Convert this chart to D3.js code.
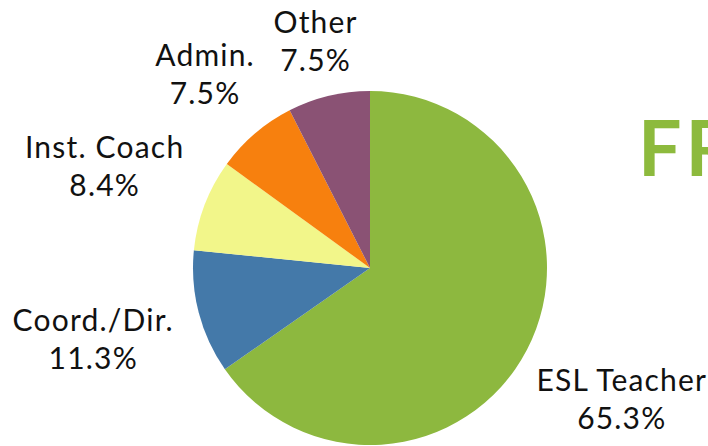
<!DOCTYPE html>
<html><head><meta charset="utf-8">
<script src="https://cdn.jsdelivr.net/npm/d3@7"></script>
<style>html,body{margin:0;padding:0;background:#fff;overflow:hidden}</style>
</head><body>
<svg id="c" width="708" height="446"></svg>
<script>
const categories = ["ESL Teacher", "Coord./Dir.", "Inst. Coach", "Admin.", "Other"];
const values = [65.3, 11.3, 8.4, 7.5, 7.5];
const colors = ["#8DB83F", "#4479A9", "#F2F68A", "#F7800E", "#8A5274"];
const titleText = "FR";

// layout (not data): distance of each label's centre from the pie centre
const labelDist = [284, 286, 284, 254, 233];

const svg = d3.select("#c");
const cx = 370, cy = 268, r = 177;
const data = categories.map((c, i) => ({cat: c, val: values[i], col: colors[i]}));
const pie = d3.pie().sort(null).value(d => d.val);
const arcs = pie(data);
const arc = d3.arc().innerRadius(0).outerRadius(r);
const g = svg.append("g").attr("transform", `translate(${cx},${cy})`);
g.selectAll("path").data(arcs).join("path")
  .attr("d", arc).attr("fill", d => d.data.col);

svg.append("text").attr("x", 638).attr("y", 176)
  .attr("font-family", "Lato, sans-serif").attr("font-weight", 700)
  .attr("font-size", 77).attr("fill", "#8DBA3D").attr("letter-spacing", 4).text(titleText);

const lh = 38, fs = 30, capH = 21;
arcs.forEach((a, i) => {
  const ang = (a.startAngle + a.endAngle) / 2;
  const lx = Math.sin(ang) * labelDist[i];
  const ly = -Math.cos(ang) * labelDist[i];
  const y0 = ly - (lh - capH) / 2;
  const t = g.append("text").attr("font-family", "Lato, sans-serif")
    .attr("font-size", fs).attr("fill", "#111").attr("text-anchor", "middle")
    .attr("letter-spacing", 1.2);
  t.append("tspan").attr("x", lx).attr("y", y0).text(a.data.cat);
  t.append("tspan").attr("x", lx).attr("y", y0 + lh).text(a.data.val.toFixed(1) + "%");
});
</script>
</body></html>
